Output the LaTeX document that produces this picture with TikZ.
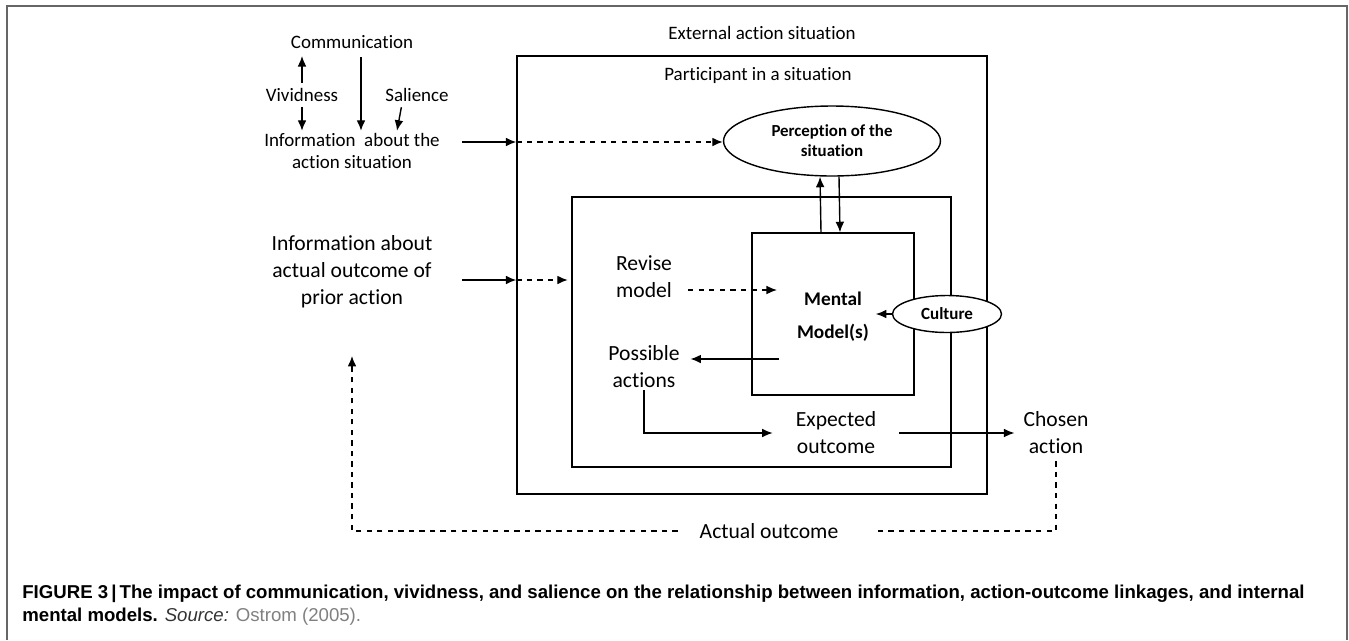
\documentclass[tikz,border=0pt]{standalone}
\usepackage{fontspec}
\setmainfont[Ligatures={NoCommon}]{Carlito}
\newfontfamily\capfont{Liberation Sans}
\usetikzlibrary{arrows.meta,shapes.geometric}

\begin{document}
\begin{tikzpicture}[x=0.02cm, y=-0.02cm,
  arr/.style={-{Latex[length=6pt,width=5pt]}, line width=0.8pt},
  dsh/.style={dashed, line width=0.8pt},
  box/.style={draw, line width=0.8pt, rectangle, inner sep=0pt},
  oval/.style={draw, line width=0.8pt, ellipse, fill=white, inner sep=0pt, align=center},
  small/.style={font=\fontsize{10.8}{13}\selectfont, align=center, inner sep=1pt},
  big/.style={font=\fontsize{12.3}{15.3}\selectfont, align=center, inner sep=1pt}]
\useasboundingbox (0,0) rectangle (1349,640);
\draw[gray!80!black, line width=1.2pt] (7,640) -- (7,6) -- (1347,6) -- (1347,640);

% nested boxes
\node[box, minimum width=9.4cm, minimum height=8.76cm] (part) at (752,275) {};
\node[box, minimum width=7.58cm, minimum height=5.4cm] (mid) at (761.5,332) {};
\node[box, minimum width=3.24cm, minimum height=3.24cm] (mental) at (833,314) {};
\node[small] (ext) at (762,33) {External action situation};
\node[small] (parttxt) at (758,75) {Participant in a situation};

\node[oval, minimum width=4.34cm, minimum height=1.4cm,
  font=\bfseries\fontsize{9.6}{11.3}\selectfont] (percep) at (832,141) {Perception of the\\situation};
\node[font=\bfseries\fontsize{11}{18.7}\selectfont, align=center] (mtxt) at (833,317) {Mental\\Model(s)};
\node[oval, minimum width=2.18cm, minimum height=0.74cm,
  font=\bfseries\fontsize{9.7}{11}\selectfont] (culture) at (947,314) {Culture};

% text nodes
\node[small] (comm) at (352,42) {Communication};
\node[small] (viv) at (302,95) {Vividness};
\node[small] (sal) at (417,95) {Salience};
\node[small] (infosit) at (352,151) {Information\ \ about the\\action situation};
\node[big] (prior) at (352,272) {Information about\\actual outcome of\\prior action};
\node[big] (revise) at (644,277) {Revise\\model};
\node[big] (poss) at (644,367) {Possible\\actions};
\node[big] (expect) at (836,433) {Expected\\outcome};
\node[big] (chosen) at (1056,433) {Chosen\\action};
\node[big] (actual) at (769,531) {Actual outcome};

\coordinate (c1) at (361,57);
\coordinate (i1) at (462,142);
\coordinate (p1) at (462,280);
\coordinate (rm) at (777,290);
\coordinate (pm) at (779,359);

% top left arrows
\draw[arr, shorten <=2pt, shorten >=3pt] (viv.north) -- (viv.north |- comm.south);
\draw[arr, shorten <=2pt] (viv.south) -- (viv.south |- infosit.north);
\draw[arr] (c1) -- (c1 |- infosit.north);
\draw[arr, shorten <=2pt] ([xshift=-0.3cm]sal.south) -- ([xshift=0.9cm]infosit.north);

% information inputs
\draw[arr] (i1) -- (i1 -| part.west);
\draw[arr, dashed] (i1 -| part.west) -- (i1 -| percep.west);
\draw[arr] (p1) -- (p1 -| part.west);
\draw[arr, dashed] (p1 -| part.west) -- ([xshift=-2pt]p1 -| mid.west);

% perception and mental model
\draw[arr] ([xshift=-0.24cm]mental.north) -- ([xshift=-0.24cm]percep.south);
\draw[arr] ([xshift=0.14cm]percep.south) -- ([xshift=0.14cm]mental.north);
\draw[arr] (culture.west) -- ([xshift=-0.32cm]culture.west);
\draw[arr, dashed, shorten <=8pt] (revise.east |- rm) -- (rm);
\draw[arr, shorten >=5pt] (pm) -- (pm -| poss.east);

% actions and outcomes
\draw[arr, shorten >=12pt] (poss.south) |- (expect.west);
\draw[arr, shorten <=12pt, shorten >=4pt] (expect.east) -- (chosen.west);
\draw[dsh, shorten <=3pt] (chosen.south) |- ([xshift=0.66cm]actual.east);
\draw[dsh, -{Latex[length=6pt,width=5pt]}, shorten >=26pt] ([xshift=-0.4cm]actual.west) -| (prior.south);

% caption
\node[anchor=west, inner sep=0pt, font=\capfont\fontsize{10.6}{12}\selectfont] (cap1) at (22,594)
  {\bfseries FIGURE 3\,|\,The impact of communication, vividness, and salience on the relationship between information, action-outcome linkages, and internal};
\node[anchor=west, inner sep=0pt, font=\capfont\fontsize{10.6}{12}\selectfont] (cap2) at (22,617)
  {\bfseries mental models. \mdseries\itshape\color{black!80}Source: \upshape\color{gray}Ostrom (2005).};
\end{tikzpicture}
\end{document}
